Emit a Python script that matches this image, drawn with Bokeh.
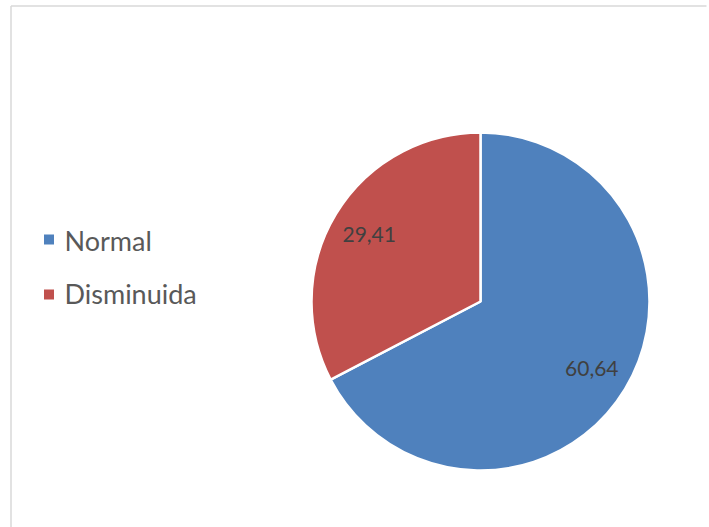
import math
from bokeh.plotting import figure
from bokeh.models import Range1d, ColumnDataSource
from bokeh.core.properties import value
from bokeh.embed import file_html
from bokeh.resources import INLINE

categories = ["Normal", "Disminuida"]
values = [60.64, 29.41]
labels = ["60,64", "29,41"]
colors = ["#4F81BD", "#C0504D"]

W, H = 709, 527
p = figure(width=W, height=H, x_range=Range1d(0, W), y_range=Range1d(0, H),
           output_backend="svg", toolbar_location=None, min_border=0)
p.axis.visible = False
p.grid.visible = False
p.outline_line_color = None
p.background_fill_color = "white"
p.border_fill_color = "white"

# frame of the chart area (cut off on right and bottom)
p.segment(x0=[10.5, 10.5], y0=[H - 5.5, H - 5.5], x1=[706, 10.5], y1=[H - 5.5, -5],
          line_color="#D9D9D9", line_width=1.5)

cx, cy, R = 480, H - 301, 169
total = sum(values)
starts, ends, lx, ly = [], [], [], []
cum = 0.0
for v in values:
    a0 = math.pi / 2 - 2 * math.pi * (cum + v) / total
    a1 = math.pi / 2 - 2 * math.pi * cum / total
    starts.append(a0)
    ends.append(a1)
    mid = (a0 + a1) / 2
    lx.append(cx + 0.77 * R * math.cos(mid))
    ly.append(cy + 0.77 * R * math.sin(mid))
    cum += v

src = ColumnDataSource(dict(start=starts, end=ends, color=colors, lx=lx, ly=ly, label=labels,
                            cat=categories))
p.wedge(x=cx, y=cy, radius=R, start_angle="start", end_angle="end", direction="anticlock",
        fill_color="color", line_color="white", line_width=2.5, source=src)
p.text(x="lx", y="ly", text="label", source=src, text_align="center", text_baseline="middle",
       text_font=value("Lato"), text_font_size="21px", text_color="#404040")

# legend
leg_y = [H - 239, H - 294]
p.scatter(x=[48.5, 48.5], y=leg_y, marker="square", size=10, fill_color=colors, line_color=None)
p.text(x=[64, 64], y=[H - 240, H - 293], text=categories, text_align="left",
       text_baseline="middle", text_font=value("Lato"), text_font_size="27px",
       text_color="#595959")

open("out.html", "w").write(file_html(p, INLINE))
